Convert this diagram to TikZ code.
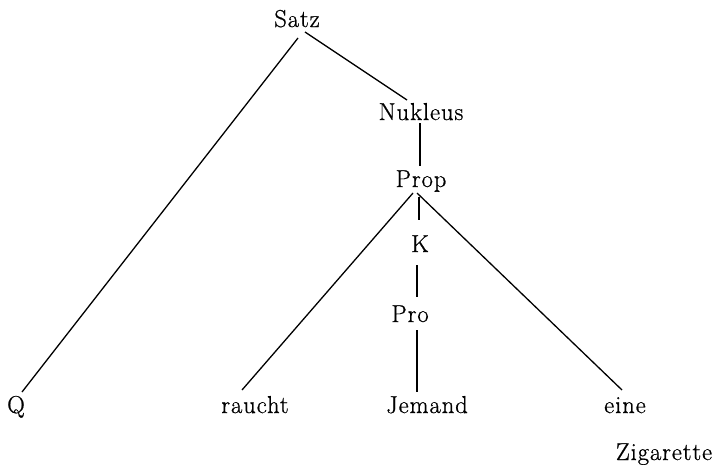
\documentclass[tikz,border=0pt]{standalone}
\usepackage{fontspec}
\setmainfont{Latin Modern Roman}[FakeBold=0.8,LetterSpace=4]
\usetikzlibrary{calc}
\begin{document}
\begin{tikzpicture}[x=1pt,y=-1pt,
  lbl/.style={anchor=base,inner sep=0pt,font=\fontsize{24.5}{28}\selectfont},
  edge/.style={line width=1.3pt}]
\useasboundingbox (0,0) rectangle (719,464);
\node[lbl] (satz) at (297,27) {Satz};
\node[lbl] (nukleus) at (421,120) {Nukleus};
\node[lbl] (prop) at (421,187) {Prop};
\node[lbl] (k) at (420,252) {K};
\node[lbl] (pro) at (410,322) {Pro};
\node[lbl] (q) at (16,413) {Q};
\node[lbl] (raucht) at (255,413) {raucht};
\node[lbl] (jemand) at (427,413) {Jemand};
\node[lbl] (eine) at (625,413) {eine};
\node[lbl] (zig) at (664,460) {Zigarette};
\draw[edge] ($(satz.base)+(1,11)$) -- ($(q.base)+(6,-21)$);
\draw[edge] ($(satz.base)+(8,5)$) -- ($(nukleus.base)+(-14,-20)$);
\draw[edge] ($(nukleus.base)+(-1,3)$) -- ($(prop.base)+(-1,-21)$);
\draw[edge] ($(prop.base)+(-8,6)$) -- ($(raucht.base)+(-13,-23)$);
\draw[edge] ($(prop.base)+(-4,6)$) -- ($(eine.base)+(-3,-23)$);
\draw[edge] ($(prop.base)+(-2,10)$) -- ($(k.base)+(-1,-32)$);
\draw[edge] ($(k.base)+(-3,13)$) -- ($(pro.base)+(7,-25)$);
\draw[edge] ($(pro.base)+(7,8)$) -- ($(jemand.base)+(-10,-21)$);
\end{tikzpicture}
\end{document}
